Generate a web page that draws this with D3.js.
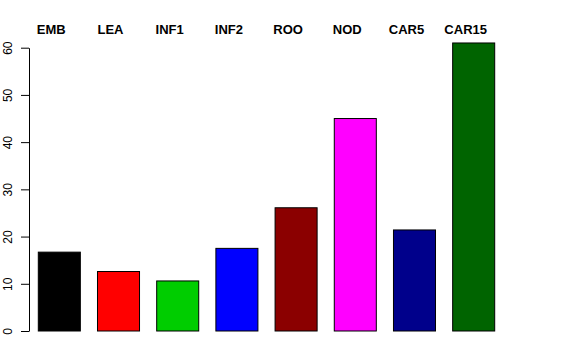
<!DOCTYPE html>
<html>
<head>
<meta charset="utf-8">
<script src="https://cdn.jsdelivr.net/npm/d3@7"></script>
<style>
  body { margin: 0; background: #fff; }
  text { font-family: "Liberation Sans", Arial, sans-serif; }
</style>
</head>
<body>
<svg width="576" height="360"></svg>
<script>
// data
var categories = ["EMB", "LEA", "INF1", "INF2", "ROO", "NOD", "CAR5", "CAR15"];
var values = [16.7, 12.6, 10.6, 17.5, 26.1, 45.0, 21.4, 61.0];
var barColors = ["#000000", "#ff0000", "#00cd00", "#0000ff", "#8b0000", "#ff00ff", "#00008b", "#006400"];
var yTicks = [0, 10, 20, 30, 40, 50, 60];

var svg = d3.select("svg");

//Scales
var x = d3.scaleBand().domain(categories)
    .range([38.3, 494.7])
    .paddingInner(0.29)
    .paddingOuter(0);
var y = d3.scaleLinear().domain([0, 60]).range([331, 47.7]);

//Bars
svg.selectAll(".bar")
    .data(categories)
    .enter().append("rect")
    .attr("class", "bar")
    .attr("x", function(d) { return x(d); })
    .attr("width", x.bandwidth())
    .attr("y", function(d, i) { return y(values[i]); })
    .attr("height", function(d, i) { return y(0) - y(values[i]); })
    .attr("fill", function(d, i) { return barColors[i]; })
    .attr("stroke", "#000")
    .attr("stroke-width", 1);

//Y axis, R style with rotated labels
var yAxis = d3.axisLeft(y).tickValues(yTicks).tickSize(8).tickSizeOuter(0);
var gy = svg.append("g")
    .attr("transform", "translate(29,0)")
    .call(yAxis);
gy.select(".domain").attr("stroke", "#000");
gy.selectAll(".tick line").attr("stroke", "#000");
gy.selectAll(".tick text")
    .attr("x", 0)
    .attr("text-anchor", "middle")
    .attr("transform", "translate(-21,0) rotate(-90)")
    .attr("dy", "0.35em")
    .style("font-size", "12px")
    .attr("fill", "#000");

//Category labels on top
svg.selectAll(".lab")
    .data(categories)
    .enter().append("text")
    .attr("class", "lab")
    .attr("x", function(d) { return x(d) + x.bandwidth() / 2 - 8; })
    .attr("y", 34.3)
    .attr("text-anchor", "middle")
    .style("font-size", "13px")
    .style("font-weight", "bold")
    .text(function(d) { return d; });
</script>
</body>
</html>
